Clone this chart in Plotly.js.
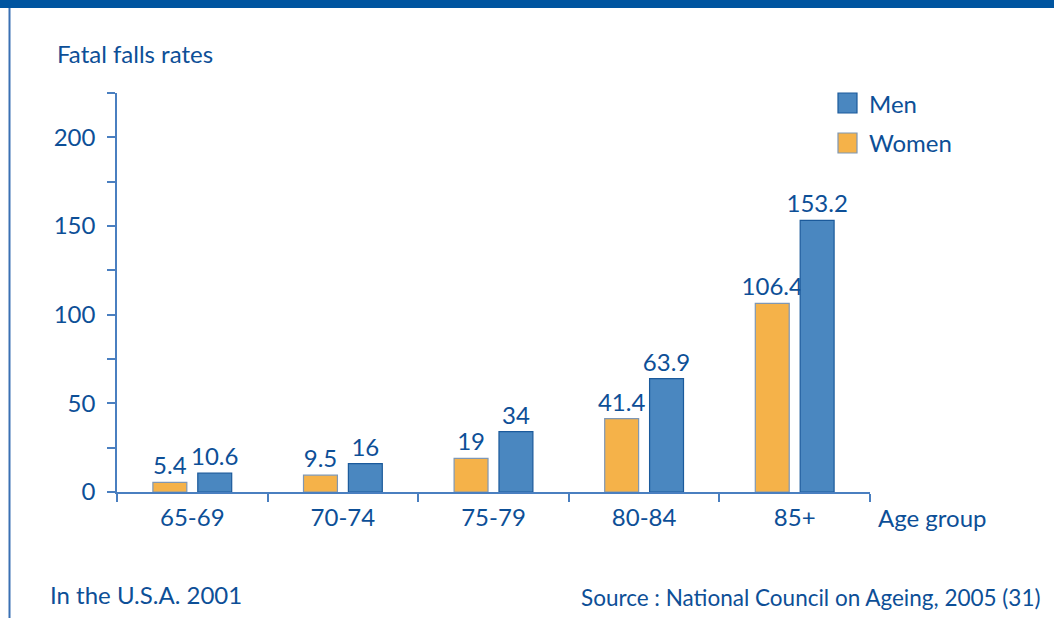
<!DOCTYPE html>
<html>
<head>
<meta charset="utf-8">
<script src="https://cdn.plot.ly/plotly-3.0.1.min.js"></script>
<style>html,body{margin:0;padding:0;background:#fff;}#chart{width:1054px;height:618px;}</style>
</head>
<body>
<div id="chart"></div>
<script>
var ageGroups = ["65-69", "70-74", "75-79", "80-84", "85+"];
var women = [5.4, 9.5, 19, 41.4, 106.4];
var men = [10.6, 16, 34, 63.9, 153.2];
var seriesNames = ["Men", "Women"];
var yTickVals = [0, 25, 50, 75, 100, 125, 150, 175, 200, 225];
var yTickText = ["0", "", "50", "", "100", "", "150", "", "200", ""];

var FONT = "Lato, 'Open Sans', sans-serif";
var TXT = "#0d4f97";
var AX = "#4a7fc0";
var menFill = "#4a87c0", menLine = "#1b5a9b";
var womenFill = "#f5b249", womenLine = "#7f97b3";
var FS = 24;

var traces = [
  {type: "bar", name: seriesNames[1], x: ageGroups, y: women,
   text: women.map(String), textposition: "outside", cliponaxis: false, constraintext: "none",
   textfont: {family: FONT, size: FS, color: TXT},
   marker: {color: womenFill, line: {color: womenLine, width: 1.2}},
   showlegend: false, hoverinfo: "x+y"},
  {type: "bar", name: seriesNames[0], x: ageGroups, y: men,
   text: men.map(String), textposition: "outside", cliponaxis: false, constraintext: "none",
   textfont: {family: FONT, size: FS, color: TXT},
   marker: {color: menFill, line: {color: menLine, width: 1.2}},
   showlegend: false, hoverinfo: "x+y"}
];

function px2x(p){ return (p - 117) / 753; }
function px2y(p){ return (492 - p) / 399; }

var layout = {
  width: 1054, height: 618,
  margin: {l: 117, r: 184, t: 93, b: 126, pad: 0},
  paper_bgcolor: "#fff", plot_bgcolor: "#fff",
  barmode: "group", bargap: 0.404, bargroupgap: 0.244,
  font: {family: FONT, color: TXT, size: FS},
  xaxis: {
    type: "category", showgrid: false, zeroline: false,
    showline: true, linecolor: AX, linewidth: 1.5,
    ticks: "outside", tickson: "boundaries", ticklen: 8, tickcolor: AX, tickwidth: 1.5,
    ticklabelstandoff: 3,
    tickfont: {family: FONT, size: FS, color: TXT}
  },
  yaxis: {
    range: [0, 225], showgrid: false, zeroline: false,
    showline: true, linecolor: AX, linewidth: 1.5,
    ticks: "outside", ticklen: 8, tickcolor: AX, tickwidth: 1.5,
    tickmode: "array", tickvals: yTickVals, ticktext: yTickText,
    ticklabelstandoff: 7,
    tickfont: {family: FONT, size: FS, color: TXT}
  },
  shapes: [
    {type: "rect", xref: "paper", yref: "paper", x0: px2x(0), x1: px2x(1054), y0: px2y(8), y1: px2y(0),
     fillcolor: "#0055a0", line: {width: 0}},
    {type: "line", xref: "paper", yref: "paper", x0: px2x(9.5), x1: px2x(9.5), y0: px2y(8), y1: px2y(618),
     line: {color: "#3a70b3", width: 2}},
    {type: "line", xref: "paper", yref: "paper", x0: px2x(109), x1: px2x(117), y0: 0, y1: 0,
     line: {color: AX, width: 1.5}},
    {type: "rect", xref: "paper", yref: "paper", x0: px2x(838), x1: px2x(857), y0: px2y(113), y1: px2y(93),
     fillcolor: menFill, line: {color: menLine, width: 1.2}},
    {type: "rect", xref: "paper", yref: "paper", x0: px2x(838), x1: px2x(857), y0: px2y(153), y1: px2y(133),
     fillcolor: womenFill, line: {color: womenLine, width: 1.2}}
  ],
  annotations: [
    {xref: "paper", yref: "paper", x: px2x(867), y: px2y(103), xanchor: "left", yanchor: "middle",
     text: seriesNames[0], showarrow: false, font: {family: FONT, size: FS, color: TXT}},
    {xref: "paper", yref: "paper", x: px2x(867), y: px2y(142), xanchor: "left", yanchor: "middle",
     text: seriesNames[1], showarrow: false, font: {family: FONT, size: FS, color: TXT}},
    {xref: "paper", yref: "paper", x: px2x(55), y: px2y(54), xanchor: "left", yanchor: "middle",
     text: "Fatal falls rates", showarrow: false, font: {family: FONT, size: FS, color: TXT}},
    {xref: "paper", yref: "paper", x: px2x(876), y: px2y(517), xanchor: "left", yanchor: "middle",
     text: "Age group", showarrow: false, font: {family: FONT, size: FS, color: TXT}},
    {xref: "paper", yref: "paper", x: px2x(48), y: px2y(594), xanchor: "left", yanchor: "middle",
     text: "In the U.S.A. 2001", showarrow: false, font: {family: FONT, size: FS, color: TXT}},
    {xref: "paper", yref: "paper", x: px2x(1042), y: px2y(597), xanchor: "right", yanchor: "middle",
     text: "Source : National Council on Ageing, 2005 (31)", showarrow: false, font: {family: FONT, size: 22.5, color: TXT}}
  ]
};

Plotly.newPlot("chart", traces, layout, {displayModeBar: false, responsive: false});
</script>
</body>
</html>
